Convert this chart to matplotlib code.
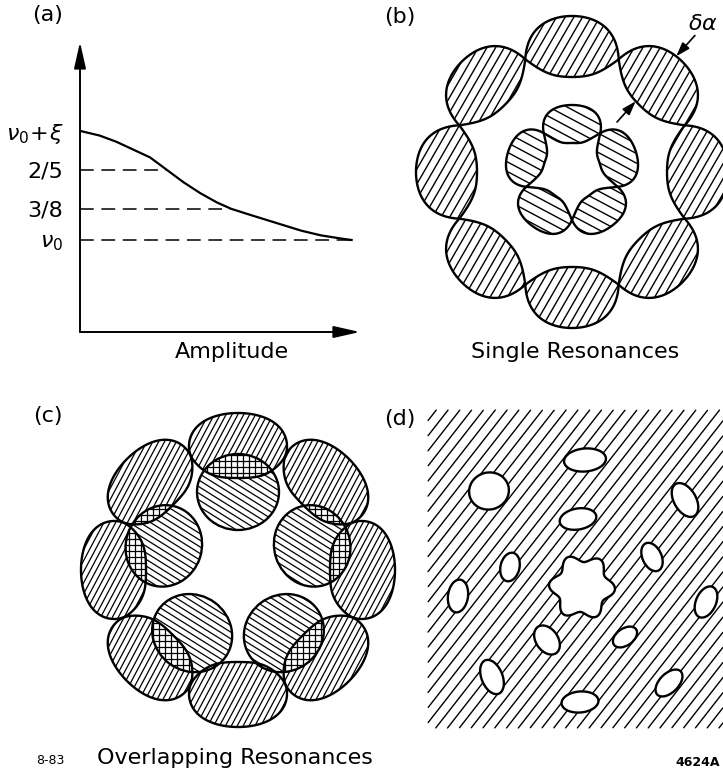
import numpy as np
import matplotlib
matplotlib.use('Agg')
import matplotlib.pyplot as plt
from matplotlib.path import Path
from matplotlib.patches import Ellipse, PathPatch
from matplotlib.collections import LineCollection

W, H = 723, 774
plt.rcParams['font.family'] = ['DejaVu Sans']
plt.rcParams['mathtext.fontset'] = 'dejavusans'

# (a) tune against amplitude
amp = [0.0, 0.07, 0.13, 0.19, 0.25, 0.31, 0.37, 0.43, 0.49, 0.54, 0.61,
       0.70, 0.79, 0.86, 0.93, 0.97]
tune = [0.425, 0.422, 0.418, 0.413, 0.408, 0.400, 0.392, 0.385, 0.379, 0.375,
        0.371, 0.366, 0.361, 0.358, 0.356, 0.355]
res_tunes = [0.400, 0.375, 0.355]
tick_tunes = [0.355, 0.375, 0.400, 0.425]
tick_labels = [r'$\nu_0$', '3/8', '2/5', r'$\nu_0\!+\!\xi$']

# island chains: (n islands, phase deg, R, w_out, w_in, half width deg, p, b)
b_centre = (572, 172)
b_outer = (8, 0, 122, 34, 27, 22.5, 1.0, 0.5)
b_inner = (5, 90, 48, 19, 19, 36, 1.0, 0.8)

c_centre = (238, 570)
c_outer = (8, 0, 124, 33, 32, 22.5, 0.6, 0.3)
# inner islands of (c): (n, phase deg, radius, radial size, tangential size)
c_inner = (5, 90, 78, 76, 82)

# (d) islands left in the stochastic sea
d_box = (428, 410, 723, 728)
hole_x = [489, 585, 578, 685, 510, 652, 458, 706, 547, 625, 492, 580, 669]
hole_y = [491, 460, 519, 500, 567, 557, 596, 602, 640, 637, 677, 702, 683]
hole_w = [40, 42, 37, 37, 29, 30, 33, 33, 32, 27, 36, 37, 33]
hole_h = [37, 23, 21, 22, 19, 19, 20, 20, 22, 17, 21, 21, 19]
hole_ang = [15, 5, 10, -60, 77, 115, 82, 66, -55, 35, 112, 5, 45]
core = (582, 587, 29, 4, 6)


def chain(centre, n, phase, R, w_out, w_in, half, p, b, npts=160):
    cx, cy = centre
    half = np.deg2rad(half)
    t = np.linspace(-half, half, npts)
    x = t / half
    f = np.clip(1 - x ** 2, 0, None) ** p * (1 + b * x ** 2)
    paths = []
    for k in range(n):
        th = np.deg2rad(phase + 360 * k / n) + t
        ro = R + w_out * f
        ri = R - w_in * f
        px = np.r_[cx + ro * np.cos(th), cx + ri[::-1] * np.cos(th[::-1])]
        py = np.r_[cy - ro * np.sin(th), cy - ri[::-1] * np.sin(th[::-1])]
        v = np.column_stack([np.r_[px, px[0]], np.r_[py, py[0]]])
        paths.append(Path(v, closed=True))
    return paths


def ovals(centre, n, phase, r, radial, tangential):
    paths = []
    for k in range(n):
        a = phase + 360 * k / n
        c = (centre[0] + r * np.cos(np.deg2rad(a)), centre[1] - r * np.sin(np.deg2rad(a)))
        e = Ellipse(c, radial, tangential, angle=-a)
        paths.append(e.get_path().transformed(e.get_patch_transform()))
    return paths


def inside(paths, xy):
    m = np.zeros(len(xy), bool)
    for p in paths:
        m |= p.contains_points(xy)
    return m


def hatch(ax, mask, box, angle, step, lw=1.0, res=0.4):
    x0, y0, x1, y1 = box
    c = np.array([(x0 + x1) / 2, (y0 + y1) / 2])
    half = np.hypot(x1 - x0, y1 - y0) / 2
    a = np.deg2rad(angle)
    d = np.array([np.cos(a), -np.sin(a)])
    nv = np.array([np.sin(a), np.cos(a)])
    t = np.arange(-half, half, res)
    segs = []
    for off in np.arange(-half, half, step):
        xy = c + off * nv + t[:, None] * d
        m = mask(xy)
        e = np.flatnonzero(np.diff(np.r_[0, m.astype(int), 0]))
        for s0, s1 in zip(e[::2], e[1::2]):
            if s1 - s0 > 3:
                segs.append([xy[s0], xy[s1 - 1]])
    ax.add_collection(LineCollection(segs, colors='k', linewidths=lw,
                                     capstyle='round'))


def outline(ax, paths, lw=1.7):
    for p in paths:
        ax.add_patch(PathPatch(p, fill=False, ec='k', lw=lw, joinstyle='round'))


def ring_box(centre, r):
    return (centre[0] - r, centre[1] - r, centre[0] + r, centre[1] + r)


fig = plt.figure(figsize=(W / 100, H / 100), dpi=100)
bg = fig.add_axes([0, 0, 1, 1])
bg.set_xlim(0, W)
bg.set_ylim(H, 0)
bg.axis('off')

# ---- (a)
ax = fig.add_axes([80 / W, 1 - 332 / H, 280 / W, 290 / H])
ax.set_xlim(0, 1)
ax.set_ylim(0.296, 0.482)
for s in ax.spines.values():
    s.set_visible(False)
ax.plot(amp, tune, color='k', lw=1.6, solid_joinstyle='round')
for nu in res_tunes:
    a_end = np.interp(nu, tune[::-1], amp[::-1])
    ax.plot([0, a_end], [nu, nu], color='k', lw=1.1, dashes=(9, 5))
arrow = dict(arrowstyle='-|>,head_length=0.8,head_width=0.18', color='k',
             lw=1.4, shrinkA=0, shrinkB=0, mutation_scale=20)
ax.annotate('', xy=(0, 1), xytext=(0, 0), xycoords='axes fraction', arrowprops=arrow)
ax.annotate('', xy=(1, 0), xytext=(0, 0), xycoords='axes fraction', arrowprops=arrow)
ax.set_xticks([])
ax.set_yticks(tick_tunes, tick_labels, fontsize=16)
ax.tick_params(axis='y', length=0, pad=12)

# ---- (b)
bo = chain(b_centre, *b_outer)
bi = chain(b_centre, *b_inner)
hatch(bg, lambda xy: inside(bo, xy), ring_box(b_centre, 165), 60, 7.5)
hatch(bg, lambda xy: inside(bi, xy), ring_box(b_centre, 75), -28, 8.5)
outline(bg, bo)
outline(bg, bi)

# width marker on the upper right island
n, ph, R, wo, wi, hw, p, bb = b_outer
xr = (48 - 45) / hw
f = (1 - xr ** 2) ** p * (1 + bb * xr ** 2)
th = np.deg2rad(48)
u = np.array([np.cos(th), -np.sin(th)])
p_out = np.array(b_centre) + (R + wo * f) * u
p_in = np.array(b_centre) + (R - wi * f) * u
head = dict(arrowstyle='-|>,head_length=0.6,head_width=0.2', color='k',
            lw=1.2, shrinkA=0, shrinkB=0, mutation_scale=14)
bg.annotate('', xy=p_out, xytext=p_out + 28 * u, arrowprops=head)
bg.annotate('', xy=p_in, xytext=p_in - 28 * u, arrowprops=head)
bg.text(p_out[0] + 28 * u[0] + 8, p_out[1] + 28 * u[1] - 1, r'$\delta\alpha$',
        fontsize=16, ha='center', va='bottom')

# ---- (c)
co = chain(c_centre, *c_outer)
ci = ovals(c_centre, *c_inner)
cbox = ring_box(c_centre, 162)
hatch(bg, lambda xy: inside(co, xy) & ~inside(ci, xy), cbox, 62, 5.2, lw=0.9)
hatch(bg, lambda xy: inside(ci, xy) & ~inside(co, xy), cbox, -32, 5.6, lw=0.9)
both = lambda xy: inside(co, xy) & inside(ci, xy)
hatch(bg, both, cbox, 0, 6.0, lw=0.9)
hatch(bg, both, cbox, 90, 6.0, lw=0.9)
outline(bg, co)
outline(bg, ci)

# ---- (d)
holes = []
for x, y, w, h, a in zip(hole_x, hole_y, hole_w, hole_h, hole_ang):
    e = Ellipse((x, y), w, h, angle=-a)
    holes.append(e.get_path().transformed(e.get_patch_transform()))
sx, sy, r0, bump, lobes = core
phi = np.linspace(0, 2 * np.pi, 300)
rr = r0 + bump * np.cos(lobes * phi + 0.4)
holes.append(Path(np.column_stack([sx + rr * np.cos(phi), sy - rr * np.sin(phi)]),
                  closed=True))
x0, y0, x1, y1 = d_box


def sea(xy):
    m = (xy[:, 0] > x0) & (xy[:, 0] < x1) & (xy[:, 1] > y0) & (xy[:, 1] < y1)
    return m & ~inside(holes, xy)


hatch(bg, sea, d_box, 52, 9.3)
outline(bg, holes)

# labels
txt = dict(fontsize=16, ha='center', va='center')
bg.text(48, 15, '(a)', **txt)
bg.text(400, 17, '(b)', **txt)
bg.text(48, 416, '(c)', **txt)
bg.text(400, 419, '(d)', **txt)
bg.text(232, 352, 'Amplitude', **txt)
bg.text(575, 352, 'Single Resonances', **txt)
bg.text(235, 758, 'Overlapping Resonances', **txt)
bg.text(50, 760, '8-83', fontsize=9, ha='center', va='center')
bg.text(698, 762, '4624A', fontsize=9, ha='center', va='center', weight='bold')

fig.savefig('out.png', dpi=100, facecolor='white')
